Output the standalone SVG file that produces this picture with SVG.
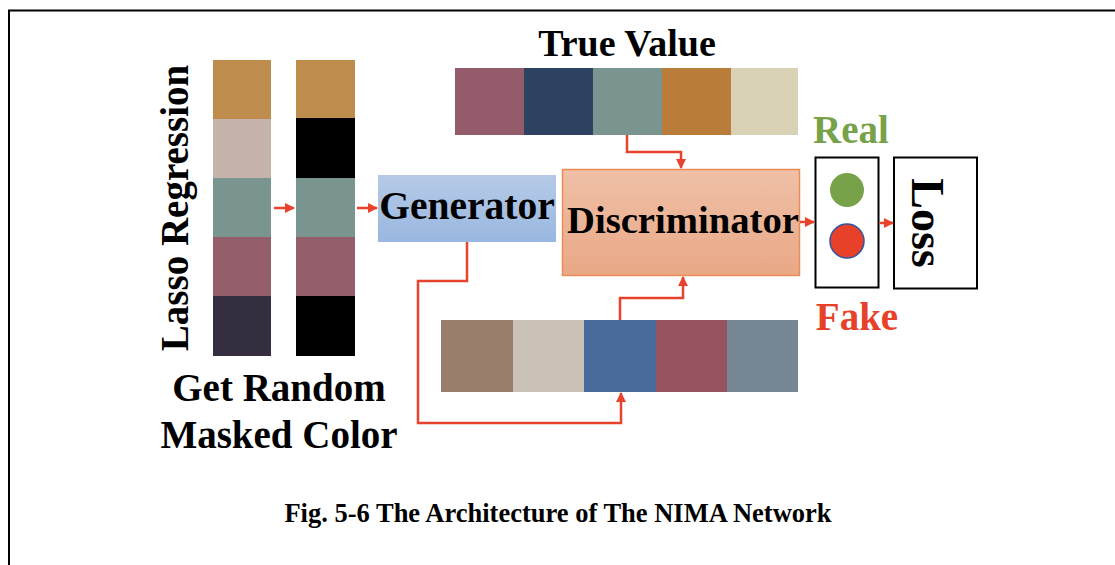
<svg xmlns="http://www.w3.org/2000/svg" width="1115" height="565" viewBox="0 0 1115 565">
<style>
.t{font-family:"Liberation Serif","Times New Roman",serif;font-weight:bold;fill:#000}
.c{stroke:#e8432d;stroke-width:2.5;fill:none}
.box{fill:#fff;stroke:#000;stroke-width:2}
</style>
<defs>
<marker id="ah" viewBox="0 0 10 10" refX="9" refY="5" markerWidth="4" markerHeight="4" orient="auto" markerUnits="strokeWidth">
<path d="M0,0 L10,5 L0,10 z" fill="#e8432d"/>
</marker>
<linearGradient id="gGen" x1="0" y1="0" x2="0" y2="1">
<stop offset="0" stop-color="#b6cae7"/><stop offset="1" stop-color="#99b7e0"/>
</linearGradient>
<linearGradient id="gDis" x1="0" y1="0" x2="0" y2="1">
<stop offset="0" stop-color="#efc0a7"/><stop offset="1" stop-color="#e9a886"/>
</linearGradient>
</defs>
<rect width="1115" height="565" fill="#fff"/>
<path d="M9,565 V10.5 H1115" fill="none" stroke="#000" stroke-width="2"/>

<g id="lasso-label"><text class="t" font-size="39" text-anchor="middle" transform="translate(188,208) rotate(-90)">Lasso Regression</text></g>

<g id="palette-original">
<rect x="213" y="60" width="58" height="60" fill="#be8c4d"/>
<rect x="213" y="119" width="58" height="60" fill="#c5b2aa"/>
<rect x="213" y="178" width="58" height="60" fill="#7a948f"/>
<rect x="213" y="237" width="58" height="60" fill="#945f6b"/>
<rect x="213" y="296" width="58" height="60" fill="#352d40"/>
</g>
<g id="palette-masked">
<rect x="296" y="60" width="59" height="59" fill="#be8c4d"/>
<rect x="296" y="118" width="59" height="60" fill="#000"/>
<rect x="296" y="178" width="59" height="60" fill="#7a948f"/>
<rect x="296" y="237" width="59" height="60" fill="#945f6b"/>
<rect x="296" y="296" width="59" height="60" fill="#000"/>
</g>
<g id="masked-label">
<text class="t" font-size="39" text-anchor="middle" x="279" y="401">Get Random</text>
<text class="t" font-size="39" text-anchor="middle" x="279" y="448">Masked Color</text>
</g>

<g id="true-value">
<text class="t" font-size="38" text-anchor="middle" x="627" y="56">True Value</text>
<rect x="455" y="68" width="69" height="67" fill="#945c6b"/>
<rect x="524" y="68" width="69" height="67" fill="#2d4261"/>
<rect x="593" y="68" width="69" height="67" fill="#7a9590"/>
<rect x="662" y="68" width="69" height="67" fill="#b97c39"/>
<rect x="731" y="68" width="67" height="67" fill="#d9d2b6"/>
</g>

<g id="generated-palette">
<rect x="441" y="320" width="72" height="72" fill="#9a7e6c"/>
<rect x="513" y="320" width="71" height="72" fill="#cbc2b7"/>
<rect x="584" y="320" width="72" height="72" fill="#496b9b"/>
<rect x="656" y="320" width="71" height="72" fill="#96525f"/>
<rect x="727" y="320" width="71" height="72" fill="#768793"/>
</g>

<g id="generator">
<rect x="378" y="175" width="178" height="67" fill="url(#gGen)"/>
<text class="t" font-size="39.5" text-anchor="middle" x="467" y="219">Generator</text>
</g>

<g id="discriminator">
<rect x="562.5" y="169.5" width="237" height="106" fill="url(#gDis)" stroke="#e98c55" stroke-width="1.5"/>
<text class="t" font-size="38.7" text-anchor="middle" x="683" y="233">Discriminator</text>
</g>

<g id="real-fake">
<rect class="box" x="815.5" y="157.5" width="63" height="130"/>
<circle cx="847" cy="190" r="17" fill="#77a24a"/>
<circle cx="847" cy="241" r="17" fill="#e8412a" stroke="#2e55a5" stroke-width="1.5"/>
<text class="t" font-size="39" text-anchor="middle" x="851" y="143" style="fill:#77a24a">Real</text>
<text class="t" font-size="39" text-anchor="middle" x="857" y="330" style="fill:#e8412a">Fake</text>
</g>

<g id="loss">
<rect class="box" x="894" y="157.5" width="83" height="131"/>
<text class="t" font-size="46" text-anchor="middle" transform="translate(912,223) rotate(90)">Loss</text>
</g>

<g id="connectors">
<path class="c" d="M274,208 H294" marker-end="url(#ah)"/>
<path class="c" d="M357,208 H377" marker-end="url(#ah)"/>
<path class="c" d="M627,135 V152 H681 V168" marker-end="url(#ah)"/>
<path class="c" d="M620,320 V298 H683 V277" marker-end="url(#ah)"/>
<path class="c" d="M467,242 V281 H418 V423 H621 V393" marker-end="url(#ah)"/>
<path class="c" d="M800,222 H814" marker-end="url(#ah)"/>
<path class="c" d="M879,223 H893" marker-end="url(#ah)"/>
</g>

<g id="caption"><text class="t" font-size="26.5" text-anchor="middle" x="558" y="522">Fig. 5-6 The Architecture of The NIMA Network</text></g>
</svg>
